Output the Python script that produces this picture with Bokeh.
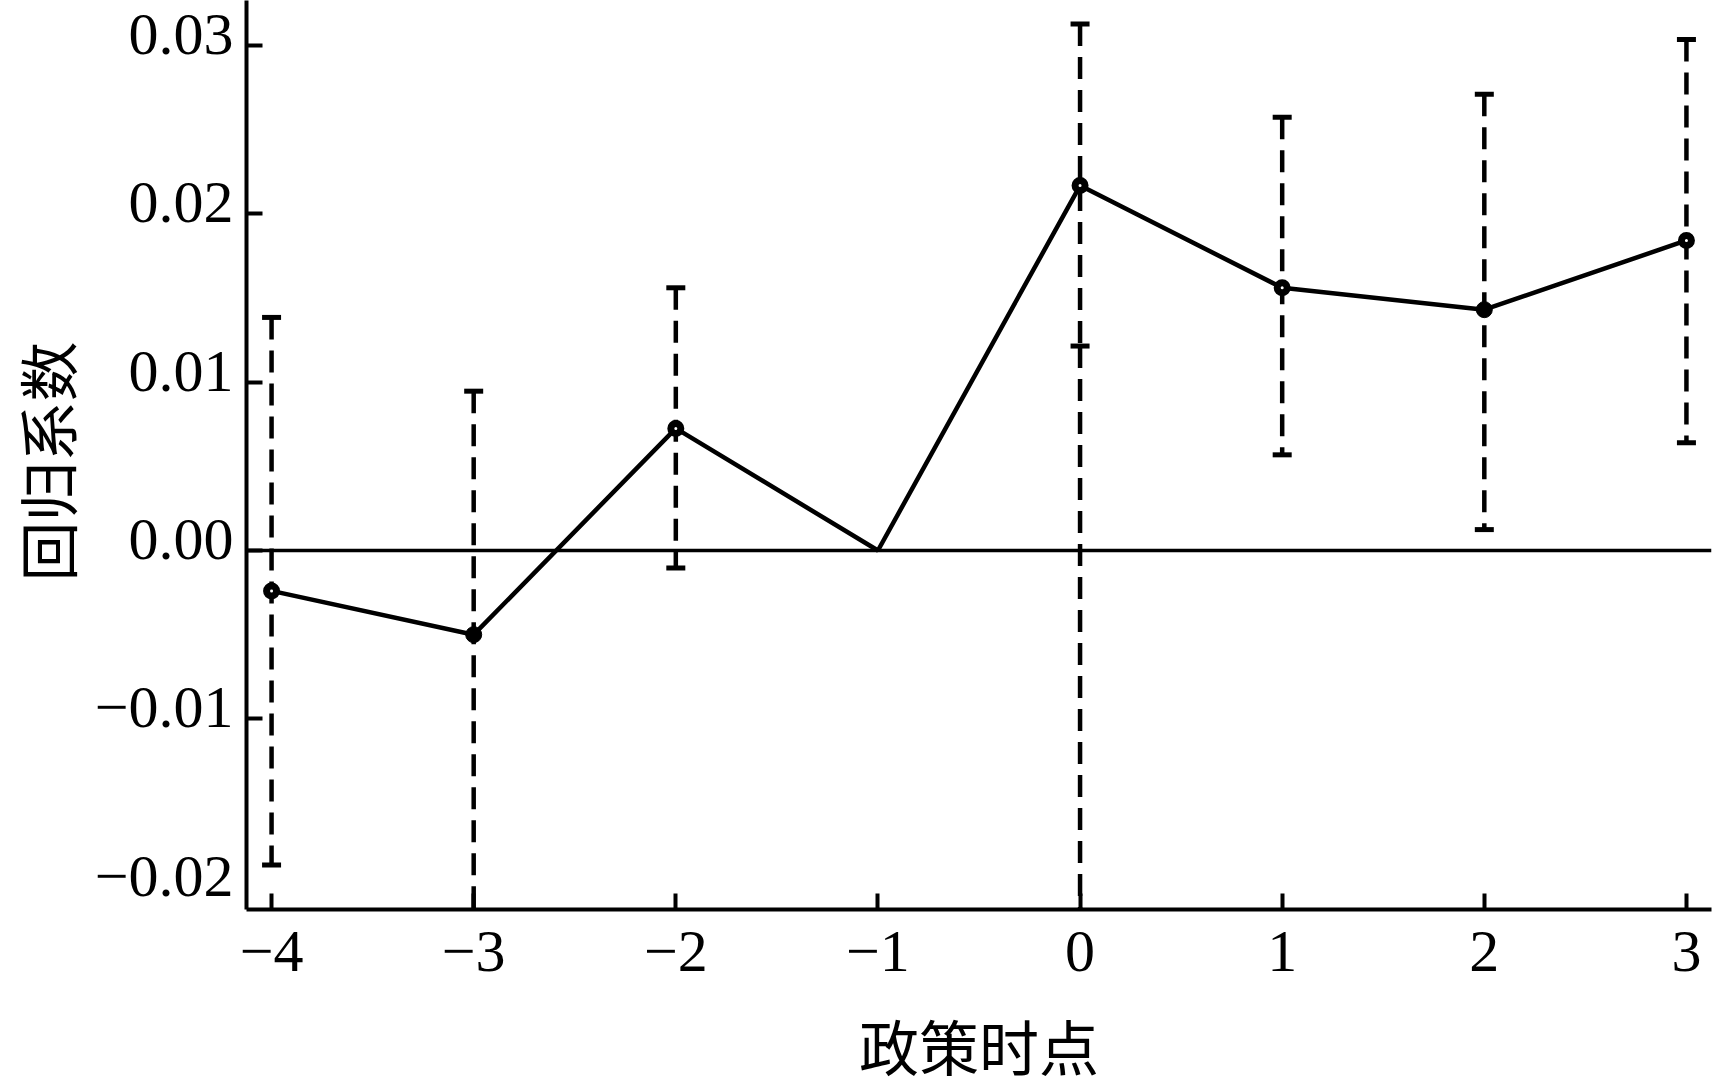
import math
from bokeh.plotting import figure
from bokeh.layouts import row, column
from bokeh.models import Range1d, Span, FixedTicker
from bokeh.core.properties import value
from bokeh.embed import file_html
from bokeh.resources import INLINE

# ---- data ----
periods = [-4, -3, -2, -1, 0, 1, 2, 3]
coef = [-0.0024, -0.0050, 0.00725, 0.0, 0.02167, 0.0156, 0.0143, 0.01841]
ci_upper = [0.01384, 0.00946, 0.0156, None, 0.03127, 0.02572, 0.02709, 0.03035]
ci_lower = [-0.01867, -0.0235, -0.00104, None, 0.01214, 0.00568, 0.00124, 0.0064]
marker_kind = ["open", "filled", "open", None, "open", "open", "filled", "open"]
ref_period = 0  # policy time: dashed reference line below its interval

x_ticks = [-4, -3, -2, -1, 0, 1, 2, 3]
x_tick_labels = ["\u22124", "\u22123", "\u22122", "\u22121", "0", "1", "2", "3"]
y_ticks = [-0.02, -0.01, 0.0, 0.01, 0.02, 0.03]
y_tick_labels = ["\u22120.02", "\u22120.01", "0.00", "0.01", "0.02", "0.03"]
x_label = "政策时点"
y_label = "回归系数"

X_START, X_END = -4.124, 3.124
Y_START, Y_END = -0.02132, 0.03266

# ---- layout (pixels) ----
TOTAL_W, TOTAL_H = 1713, 1090
LEFT_W = 236                 # strip with y tick labels and y title
MAIN_W = TOTAL_W - LEFT_W
MAIN_BL, MAIN_BR, MAIN_BB = 10, 2, 6
FRAME_H = 909
TOP_H = FRAME_H + MAIN_BB
BOTTOM_H = TOTAL_H - TOP_H   # strip with x tick labels and x title
FRAME_L = LEFT_W + MAIN_BL
FRAME_W = MAIN_W - MAIN_BL - MAIN_BR

y_range = Range1d(Y_START, Y_END)
x_range = Range1d(X_START, X_END)


def bare(width, height, xr, yr, bottom=0):
    f = figure(width=width, height=height, x_range=xr, y_range=yr,
               output_backend="svg", toolbar_location=None,
               x_axis_location=None, y_axis_location=None,
               min_border_left=0, min_border_right=0, min_border_top=0, min_border_bottom=bottom)
    f.grid.visible = False
    f.outline_line_color = None
    f.background_fill_color = "white"
    f.border_fill_color = "white"
    return f


# ---- main plot ----
p = figure(width=MAIN_W, height=TOP_H, x_range=x_range, y_range=y_range,
           output_backend="svg", toolbar_location=None,
           min_border_left=MAIN_BL, min_border_right=MAIN_BR, min_border_top=0,
           min_border_bottom=MAIN_BB)
p.grid.visible = False
p.outline_line_color = None
p.background_fill_color = "white"
p.border_fill_color = "white"

for ax in (p.xaxis[0], p.yaxis[0]):
    ax.axis_line_width = 4
    ax.axis_line_color = "black"
    ax.major_tick_line_width = 4
    ax.major_tick_line_color = "black"
    ax.major_tick_in = 16
    ax.major_tick_out = 0
    ax.minor_tick_line_color = None
    ax.major_label_standoff = 0
    ax.major_label_text_font_size = "0px"

p.xaxis.ticker = FixedTicker(ticks=x_ticks)
p.xaxis.major_label_overrides = {t: "" for t in x_ticks}
p.yaxis.ticker = FixedTicker(ticks=[t for t in y_ticks if t > y_ticks[0]])
p.yaxis.major_label_overrides = {t: "" for t in y_ticks}

# zero line
p.add_layout(Span(location=0, dimension="width", line_color="black", line_width=3.5))

# confidence intervals
idx = [i for i in range(len(periods)) if ci_upper[i] is not None]
ex = [periods[i] for i in idx]
eu = [ci_upper[i] for i in idx]
el = [ci_lower[i] for i in idx]
p.segment(x0=ex, y0=eu, x1=ex, y1=el, line_color="black", line_width=4.5, line_dash="22 11")
p.scatter(x=ex, y=eu, marker="dash", size=19, line_width=5, line_color="black")
p.scatter(x=ex, y=el, marker="dash", size=19, line_width=5, line_color="black")

# reference line at policy time (below its interval down to the axis)
ri = periods.index(ref_period)
p.segment(x0=[ref_period], y0=[ci_lower[ri]], x1=[ref_period], y1=[Y_START],
          line_color="black", line_width=4.5, line_dash="22 11")

# coefficient line
p.line(periods, coef, line_color="black", line_width=4.5)

ox = [periods[i] for i in range(len(periods)) if marker_kind[i] == "open"]
oy = [coef[i] for i in range(len(periods)) if marker_kind[i] == "open"]
fx = [periods[i] for i in range(len(periods)) if marker_kind[i] == "filled"]
fy = [coef[i] for i in range(len(periods)) if marker_kind[i] == "filled"]
p.scatter(ox, oy, marker="circle", size=10, fill_color="white", line_color="black", line_width=7)
p.scatter(fx, fy, marker="circle", size=16, fill_color="black", line_color="black", line_width=1)

# ---- left strip: y tick labels (sitting a little above their ticks) and y title ----
left = bare(LEFT_W, TOP_H, Range1d(0, LEFT_W), y_range, bottom=MAIN_BB)
left.text(x=[LEFT_W - 3] * len(y_ticks), y=y_ticks, text=y_tick_labels,
          y_offset=-11, text_align="right", text_baseline="middle",
          text_font=value("Liberation Serif"), text_font_size=value("60px"), text_color="black")
y_title_y = Y_END - (461 / FRAME_H) * (Y_END - Y_START)
left.text(x=[45], y=[y_title_y], text=[y_label], angle=math.pi / 2,
          text_align="center", text_baseline="middle",
          text_font=value("Noto Sans CJK SC"), text_font_size=value("60px"), text_color="black")

# ---- bottom strip: x tick labels and x title, same horizontal scale as the main frame ----
ppu = FRAME_W / (X_END - X_START)
bottom_xr = Range1d(X_START - FRAME_L / ppu, X_START + (TOTAL_W - FRAME_L) / ppu)
bottom = bare(TOTAL_W, BOTTOM_H, bottom_xr, Range1d(0, BOTTOM_H))
bottom.text(x=x_ticks, y=[BOTTOM_H - (951 - TOP_H)] * len(x_ticks), text=x_tick_labels,
            text_align="center", text_baseline="middle",
            text_font=value("Liberation Serif"), text_font_size=value("60px"), text_color="black")
bottom.text(x=[(X_START + X_END) / 2], y=[BOTTOM_H - (1044 - TOP_H)], text=[x_label],
            text_align="center", text_baseline="middle",
            text_font=value("Noto Sans CJK SC"), text_font_size=value("60px"), text_color="black")

layout = column(row(left, p, spacing=0), bottom, spacing=0)
open("out.html", "w").write(file_html(layout, INLINE))
